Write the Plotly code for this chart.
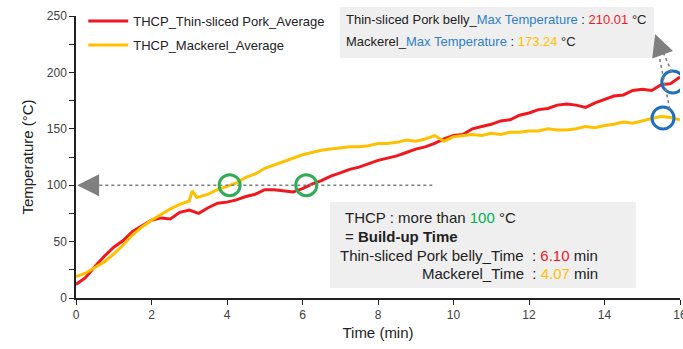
import plotly.graph_objects as go

# ---- data ----
time_pork = [0, 0.25, 0.5, 0.75, 1.0, 1.25, 1.5, 1.75, 2.0, 2.25, 2.5, 2.75, 3.0, 3.25, 3.5, 3.75,
             4.0, 4.25, 4.5, 4.75, 5.0, 5.25, 5.5, 5.75, 6.0, 6.25, 6.5, 6.75, 7.0, 7.25, 7.5, 7.75,
             8.0, 8.25, 8.5, 8.75, 9.0, 9.25, 9.5, 9.75, 10.0, 10.25, 10.5, 10.75, 11.0, 11.25, 11.5,
             11.75, 12.0, 12.25, 12.5, 12.75, 13.0, 13.25, 13.5, 13.75, 14.0, 14.25, 14.5, 14.75,
             15.0, 15.25, 15.5, 15.75, 16.0]
temp_pork = [12, 18, 28, 37, 45, 51, 59, 64, 69, 71, 70, 76, 78, 75, 80, 84,
             85, 87, 90, 92, 96, 96, 95, 94, 97, 101, 104, 108, 111, 114, 116, 119,
             122, 124, 126, 129, 132, 134, 137, 141, 144, 145, 150, 152, 154, 157, 158,
             162, 164, 167, 168, 171, 172, 171, 169, 173, 176, 179, 180, 184,
             185, 184, 189, 190, 196]

time_mackerel = [0, 0.25, 0.5, 0.75, 1.0, 1.25, 1.5, 1.75, 2.0, 2.25, 2.5, 2.75, 3.0, 3.08, 3.2, 3.5, 3.75,
                 4.0, 4.25, 4.5, 4.75, 5.0, 5.25, 5.5, 5.75, 6.0, 6.25, 6.5, 6.75, 7.0, 7.25, 7.5, 7.75,
                 8.0, 8.25, 8.5, 8.75, 9.0, 9.25, 9.5, 9.75, 10.0, 10.25, 10.5, 10.75, 11.0, 11.25, 11.5,
                 11.75, 12.0, 12.25, 12.5, 12.75, 13.0, 13.25, 13.5, 13.75, 14.0, 14.25, 14.5, 14.75,
                 15.0, 15.25, 15.5, 15.75, 16.0]
temp_mackerel = [19, 22, 27, 32, 39, 47, 56, 63, 69, 74, 79, 83, 86, 95, 89, 92, 96,
                 99, 102, 107, 110, 115, 118, 121, 124, 127, 129, 131, 132, 133, 134, 134, 135,
                 137, 137, 138, 140, 139, 141, 144, 139, 143, 144, 145, 144, 146, 145, 147,
                 147, 148, 148, 150, 149, 149, 150, 152, 151, 153, 154, 156, 155,
                 157, 159, 161, 160, 158]

series_names = ["THCP_Thin-sliced Pork_Average", "THCP_Mackerel_Average"]
x_ticks = [0, 2, 4, 6, 8, 10, 12, 14, 16]
y_ticks = [0, 50, 100, 150, 200, 250]

build_up_time = {"pork": 6.10, "mackerel": 4.07}
max_temp = {"pork": 210.01, "mackerel": 173.24}
threshold = 100

RED = "#f0171e"
YELLOW = "#ffc000"
GREEN = "#2ead55"
BLUE = "#1f6fbf"
BLUE_TXT = "#2e7fc8"
GRAY = "#7f7f7f"
BOX = "#efefef"
FONT = "Liberation Sans, Arial, sans-serif"

fig = go.Figure()
fig.add_trace(go.Scatter(x=time_pork, y=temp_pork, mode="lines", name=series_names[0],
                         line=dict(color=RED, width=3), legend="legend"))
fig.add_trace(go.Scatter(x=time_mackerel, y=temp_mackerel, mode="lines", name=series_names[1],
                         line=dict(color=YELLOW, width=3), legend="legend2"))

shapes = []
annotations = []

# grey boxes
shapes.append(dict(type="rect", xref="x", yref="paper", x0=6.99, x1=15.31, y0=0.851, y1=1.032,
                   fillcolor=BOX, line=dict(width=0), layer="below"))
shapes.append(dict(type="rect", xref="x", yref="y", x0=6.73, x1=14.83, y0=8.9, y1=85.1,
                   fillcolor=BOX, line=dict(width=0), layer="below"))

# dotted guide at threshold
shapes.append(dict(type="line", xref="x", yref="y", x0=0.3, x1=9.45, y0=threshold, y1=threshold,
                   line=dict(color=GRAY, width=1.6, dash="dot")))
annotations.append(dict(x=0.03, y=threshold, ax=0.3, ay=threshold, axref="x", ayref="y",
                        xref="x", yref="y", text="", showarrow=True, arrowhead=2,
                        arrowsize=2.2, arrowwidth=2, arrowcolor=GRAY))

# green circles at build-up times
for t in (build_up_time["mackerel"], build_up_time["pork"]):
    shapes.append(dict(type="circle", xref="x", yref="y", xsizemode="pixel", ysizemode="pixel",
                       xanchor=t, yanchor=threshold, x0=-10.5, x1=10.5, y0=-10.5, y1=10.5,
                       line=dict(color=GREEN, width=3)))

# blue circles near the end
for (cx, cy) in ((15.81, 191.5), (15.55, 159.6)):
    shapes.append(dict(type="circle", xref="x", yref="y", xsizemode="pixel", ysizemode="pixel",
                       xanchor=cx, yanchor=cy, x0=-11, x1=11, y0=-11, y1=11,
                       line=dict(color=BLUE, width=3)))

# dotted lines to the max-temperature box
shapes.append(dict(type="line", xref="x", yref="y", x0=15.78, y0=200.5, x1=15.5, y1=222,
                   line=dict(color=GRAY, width=1.6, dash="dot")))
shapes.append(dict(type="line", xref="x", yref="y", x0=15.73, y0=167.5, x1=15.4, y1=222,
                   line=dict(color=GRAY, width=1.6, dash="dot")))
annotations.append(dict(x=15.34, y=234, ax=15.47, ay=222, axref="x", ayref="y",
                        xref="x", yref="y", text="", showarrow=True, arrowhead=2,
                        arrowsize=2.2, arrowwidth=2, arrowcolor=GRAY))

# text in box 1
box1_lines = [
    f'Thin-sliced Pork belly_<span style="color:{BLUE_TXT}">Max Temperature</span> : '
    f'<span style="color:{RED}">{max_temp["pork"]:.2f}</span> °C',
    f'Mackerel_<span style="color:{BLUE_TXT}">Max Temperature</span> : '
    f'<span style="color:{YELLOW}">{max_temp["mackerel"]:.2f}</span> °C',
]
for txt, yp in zip(box1_lines, (0.986, 0.908)):
    annotations.append(dict(xref="x", yref="paper", x=7.1, y=yp, xanchor="left", yanchor="middle",
                            text=txt, showarrow=False, font=dict(family=FONT, size=13, color="#222")))

# text in box 2
annotations.append(dict(xref="x", yref="y", x=7.08, y=(298 - 217) / 1.128, xanchor="left", yanchor="middle",
                        text=f'THCP : more than <span style="color:#00b050">{threshold}</span> °C',
                        showarrow=False, font=dict(family=FONT, size=15, color="#222")))
annotations.append(dict(xref="x", yref="y", x=7.08, y=(298 - 236) / 1.128, xanchor="left", yanchor="middle",
                        text="= <b>Build-up Time</b>",
                        showarrow=False, font=dict(family=FONT, size=15, color="#222")))
annotations.append(dict(xref="x", yref="y", x=13.88, y=(298 - 255) / 1.128, xanchor="right", yanchor="middle",
                        text=f'Thin-sliced Pork belly_Time  : <span style="color:{RED}">{build_up_time["pork"]:.2f}</span> min',
                        showarrow=False, font=dict(family=FONT, size=15, color="#222")))
annotations.append(dict(xref="x", yref="y", x=13.88, y=(298 - 273) / 1.128, xanchor="right", yanchor="middle",
                        text=f'Mackerel_Time  : <span style="color:{YELLOW}">{build_up_time["mackerel"]:.2f}</span> min',
                        showarrow=False, font=dict(family=FONT, size=15, color="#222")))

legend_common = dict(font=dict(family=FONT, size=13, color="#222"), bgcolor="rgba(0,0,0,0)",
                     xanchor="left", yanchor="middle", itemwidth=40)

fig.update_layout(
    width=683, height=349,
    margin=dict(l=76, r=3, t=16, b=51, autoexpand=False),
    plot_bgcolor="white", paper_bgcolor="white",
    font=dict(family=FONT, color="#404040"),
    showlegend=True,
    legend=dict(x=0.012, y=(298 - 21) / 282, **legend_common),
    legend2=dict(x=0.012, y=(298 - 45) / 282, **legend_common),
    shapes=shapes,
    annotations=annotations,
    xaxis=dict(range=[0, 16], tickvals=x_ticks, showgrid=False, zeroline=False, automargin=False,
               showline=True, linecolor="#222", linewidth=1.5, ticks="outside", ticklen=5,
               tickcolor="#222", tickfont=dict(size=12, color="#404040"), ticklabeloverflow="allow",
               title=dict(text="Time (min)", font=dict(size=15, color="#222"), standoff=6)),
    yaxis=dict(range=[0, 250], tickvals=y_ticks, showgrid=False, zeroline=False, automargin=False,
               showline=True, linecolor="#222", linewidth=1.5, ticks="outside", ticklen=5,
               tickcolor="#222", tickfont=dict(size=12, color="#404040"),
               minor=dict(tickvals=[25, 75, 125, 175, 225], ticks="outside", ticklen=5, tickcolor="#222"),
               title=dict(text="Temperature (°C)", font=dict(size=15, color="#222"), standoff=10)),
)

fig.write_html("out.html")
